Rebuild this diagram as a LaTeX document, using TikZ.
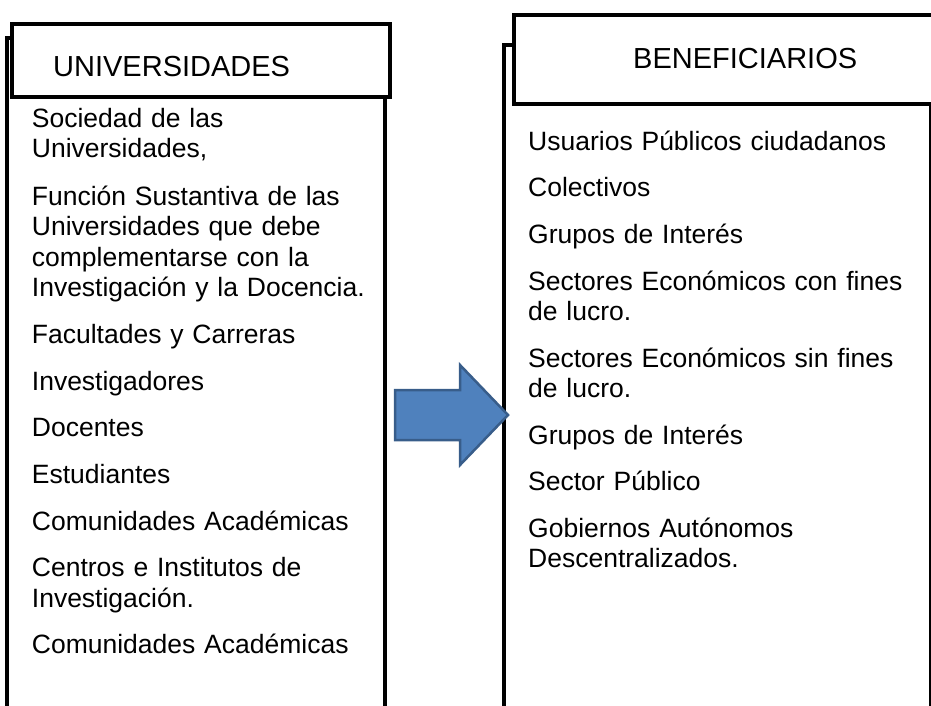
\documentclass[tikz,border=0pt]{standalone}
\usepackage{fontspec}
\setmainfont{Liberation Sans}
\begin{document}
\begin{tikzpicture}[x=1pt,y=-1pt,
  frame/.style={line width=3.5pt},
  hdr/.style={draw, fill=white, line width=3.5pt, rectangle, inner sep=0pt, anchor=north west},
  hdrtext/.style={anchor=base west, inner sep=0pt, font=\fontsize{29}{33}\selectfont},
  item/.style={anchor=base west, inner sep=0pt, text width=395pt, align=left, font=\fontsize{26.5}{30.5}\selectfont},
  bigarrow/.style={fill=arrowfill, draw=arrowline, line width=2.5pt, line join=miter}]
\definecolor{arrowfill}{HTML}{4F81BD}
\definecolor{arrowline}{HTML}{385D8A}
\useasboundingbox (0,0) rectangle (931,705);
\clip (0,0) rectangle (931,705);

% left column
\draw[frame] (7,720) -- (7,38) -- (385,38) -- (385,720);
\node[hdr, minimum width=378pt, minimum height=73pt] (uhead) at (10,22) {};
\node[hdrtext] (utitle) at (53,76) {UNIVERSIDADES};

\node[item] (u1) at (31.7,127.3) {Sociedad de las\\Universidades,};
\node[item] (u2) at (31.7,205) {Función Sustantiva de las\\Universidades que debe\\complementarse con la\\Investigación y la Docencia.};
\node[item] (u3) at (31.7,343.3) {Facultades y Carreras};
\node[item] (u4) at (31.7,390) {Investigadores};
\node[item] (u5) at (31.7,436.7) {Docentes};
\node[item] (u6) at (31.7,483.3) {Estudiantes};
\node[item] (u7) at (31.7,530) {Comunidades Académicas};
\node[item] (u8) at (31.7,576.7) {Centros e Institutos de\\Investigación.};
\node[item] (u9) at (31.7,653.5) {Comunidades Académicas};

% right column
\draw[frame] (504,720) -- (504,45) -- (931,45) -- (931,720);
\node[hdr, minimum width=440pt, minimum height=89pt] (bhead) at (512,13) {};
\node[hdrtext] (btitle) at (633,68) {BENEFICIARIOS};

\node[item] (b1) at (528,150) {Usuarios Públicos ciudadanos};
\node[item] (b2) at (528,196.5) {Colectivos};
\node[item] (b3) at (528,243) {Grupos de Interés};
\node[item] (b4) at (528,290) {Sectores Económicos con fines\\de lucro.};
\node[item] (b5) at (528,367) {Sectores Económicos sin fines\\de lucro.};
\node[item] (b6) at (528,444) {Grupos de Interés};
\node[item] (b7) at (528,490.5) {Sector Público};
\node[item] (b8) at (528,537) {Gobiernos Autónomos\\Descentralizados.};

% block arrow
\coordinate (atail) at (395,415);
\coordinate (atip) at (508,415);
\draw[bigarrow] (395,390) -- (460,390) -- (460,365) -- (atip) -- (460,465) -- (460,440) -- (395,440) -- cycle;
\end{tikzpicture}
\end{document}
